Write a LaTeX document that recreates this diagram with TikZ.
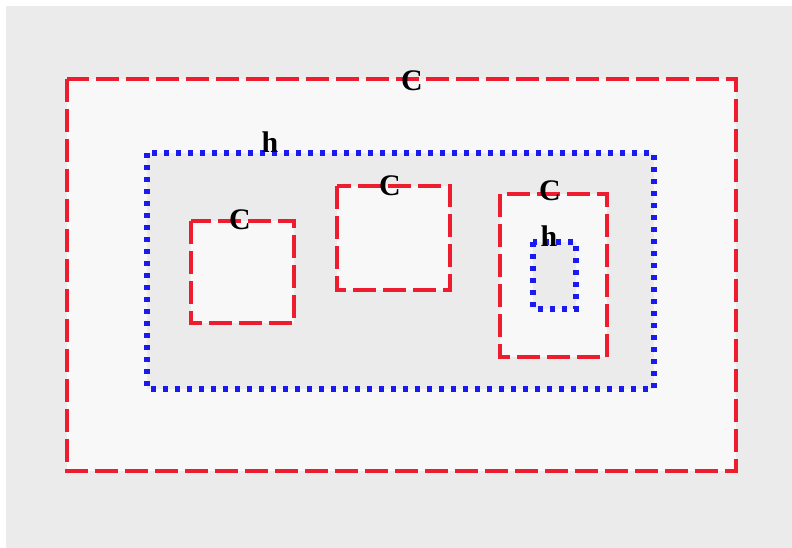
\documentclass[tikz,border=0pt]{standalone}
\usepackage{fontspec}
\setmainfont{Liberation Serif}
\definecolor{myred}{RGB}{237,28,46}
\definecolor{myblue}{RGB}{25,25,240}
\definecolor{bggrey}{RGB}{235,235,235}
\definecolor{lightfill}{RGB}{248,248,248}
\begin{document}
\begin{tikzpicture}[x=1bp,y=-1bp,
 redbox/.style={draw=myred,line width=4.3bp,dash pattern=on 23bp off 7bp,fill=lightfill},
 bluebox/.style={draw=myblue,line width=5.3bp,dash pattern=on 5.3bp off 6.7bp,fill=bggrey},
 lbl/.style={font=\bfseries\fontsize{30}{30}\selectfont,inner sep=0pt,text=black}]
\useasboundingbox (0,0) rectangle (792,548);
\fill[white] (0,0) rectangle (792,548);
\fill[bggrey] (6,6) rectangle (792,548);
\path[redbox] (67,79) rectangle (736,471);
\path[bluebox] (147,153) rectangle (654,389);
\path[redbox] (191,221) rectangle (294,323);
\path[redbox] (337,186) rectangle (450,290);
\path[redbox] (500,194) rectangle (607,357);
\path[bluebox] (533,242) rectangle (576,309);
\node[lbl] (cOuter) at (412,81) {C};
\node[lbl] (hBig) at (270,142) {h};
\node[lbl] (cOne) at (240,220) {C};
\node[lbl] (cTwo) at (390,186) {C};
\node[lbl] (cThree) at (550,191) {C};
\node[lbl] (hSmall) at (549,236) {h};
\end{tikzpicture}
\end{document}
